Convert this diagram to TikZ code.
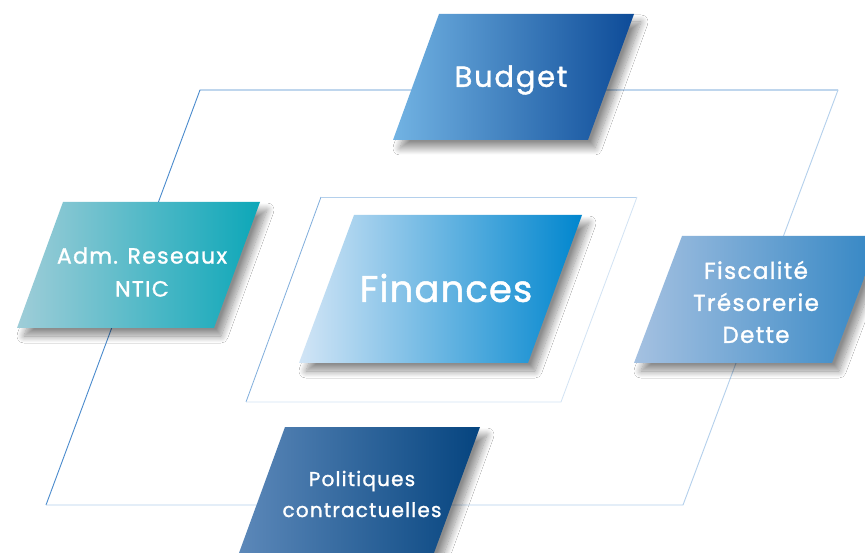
\documentclass[tikz,border=0pt]{standalone}
\usepackage{fontspec}
\setmainfont{Poppins}
\newfontfamily\boxfont{Poppins}[FakeBold = 1.3, LetterSpace = 6]
\newfontfamily\bigboxfont{Poppins}[FakeBold = 1.3, LetterSpace = 3]
\usetikzlibrary{shadows.blur}

\definecolor{framedark}{HTML}{4A8BCD}
\definecolor{framelight}{HTML}{B4D0EC}
\definecolor{budgetL}{HTML}{72B3E3}
\definecolor{budgetM}{HTML}{167AC2}
\definecolor{budgetR}{HTML}{0D4B98}
\definecolor{admL}{HTML}{9FCDD8}
\definecolor{admR}{HTML}{0CA7B8}
\definecolor{fiscL}{HTML}{A5C1E1}
\definecolor{fiscR}{HTML}{3386C4}
\definecolor{poliL}{HTML}{5C88B9}
\definecolor{poliM}{HTML}{10599A}
\definecolor{poliR}{HTML}{05447F}
\definecolor{finL}{HTML}{D2E5F6}
\definecolor{finM}{HTML}{14A0DA}
\definecolor{finR}{HTML}{0086CE}

\tikzset{
  pbox/.style = {blur shadow = {shadow xshift = 7pt, shadow yshift = -8pt,
      shadow blur steps = 14, shadow blur radius = 7pt, shadow opacity = 45}},
  ptext/.style = {text = white, align = center, inner sep = 0pt}
}

\begin{document}
\begin{tikzpicture}[x = 1pt, y = -1pt]
\useasboundingbox [fill = white] (0,0) rectangle (865,553);

% outer and inner frames
\draw [framedark, line width = 0.9pt] (46,505) -- (200,90) -- (838,90);
\draw [framelight, line width = 0.9pt] (838,90) -- (683,505) -- (46,505);
\draw [framedark!70, line width = 0.8pt] (246,402) -- (321,197);
\draw [framelight, line width = 0.8pt] (321,197) -- (637,197);
\draw [framelight!60, line width = 0.8pt] (637,197) -- (561,402) -- (246,402);

% boxes
\path [pbox, left color = budgetL, middle color = budgetM, right color = budgetR]
  (439,14) -- (634,14) -- (588,140) -- (393,140) -- cycle;
\node [ptext, font = \boxfont\fontsize{29}{32}\selectfont] (budget) at (511,80) {Budget};

\path [pbox, left color = admL, right color = admR]
  (63,202) -- (260,202) -- (214,328) -- (17,328) -- cycle;
\node [ptext, font = \boxfont\fontsize{22}{33}\selectfont] (adm) at (142,272) {Adm. Reseaux\\NTIC};

\path [pbox, left color = fiscL, right color = fiscR]
  (682,236) -- (880,236) -- (832,363) -- (634,363) -- cycle;
\node [ptext, font = \boxfont\fontsize{23}{32}\selectfont] (fisc) at (756,302) {Fiscalité\\Trésorerie\\Dette};

\path [pbox, left color = poliL, middle color = poliM, right color = poliR]
  (285,427) -- (480,427) -- (434,553) -- (239,553) -- cycle;
\node [ptext, font = \boxfont\fontsize{20}{31}\selectfont] (poli) at (362,494) {Politiques\\contractuelles};

\path [pbox, left color = finL, middle color = finM, right color = finR]
  (354,215) -- (582,215) -- (528,363) -- (299,363) -- cycle;
\node [ptext, font = \bigboxfont\fontsize{37}{40}\selectfont] (fin) at (446,288) {Finances};
\end{tikzpicture}
\end{document}
